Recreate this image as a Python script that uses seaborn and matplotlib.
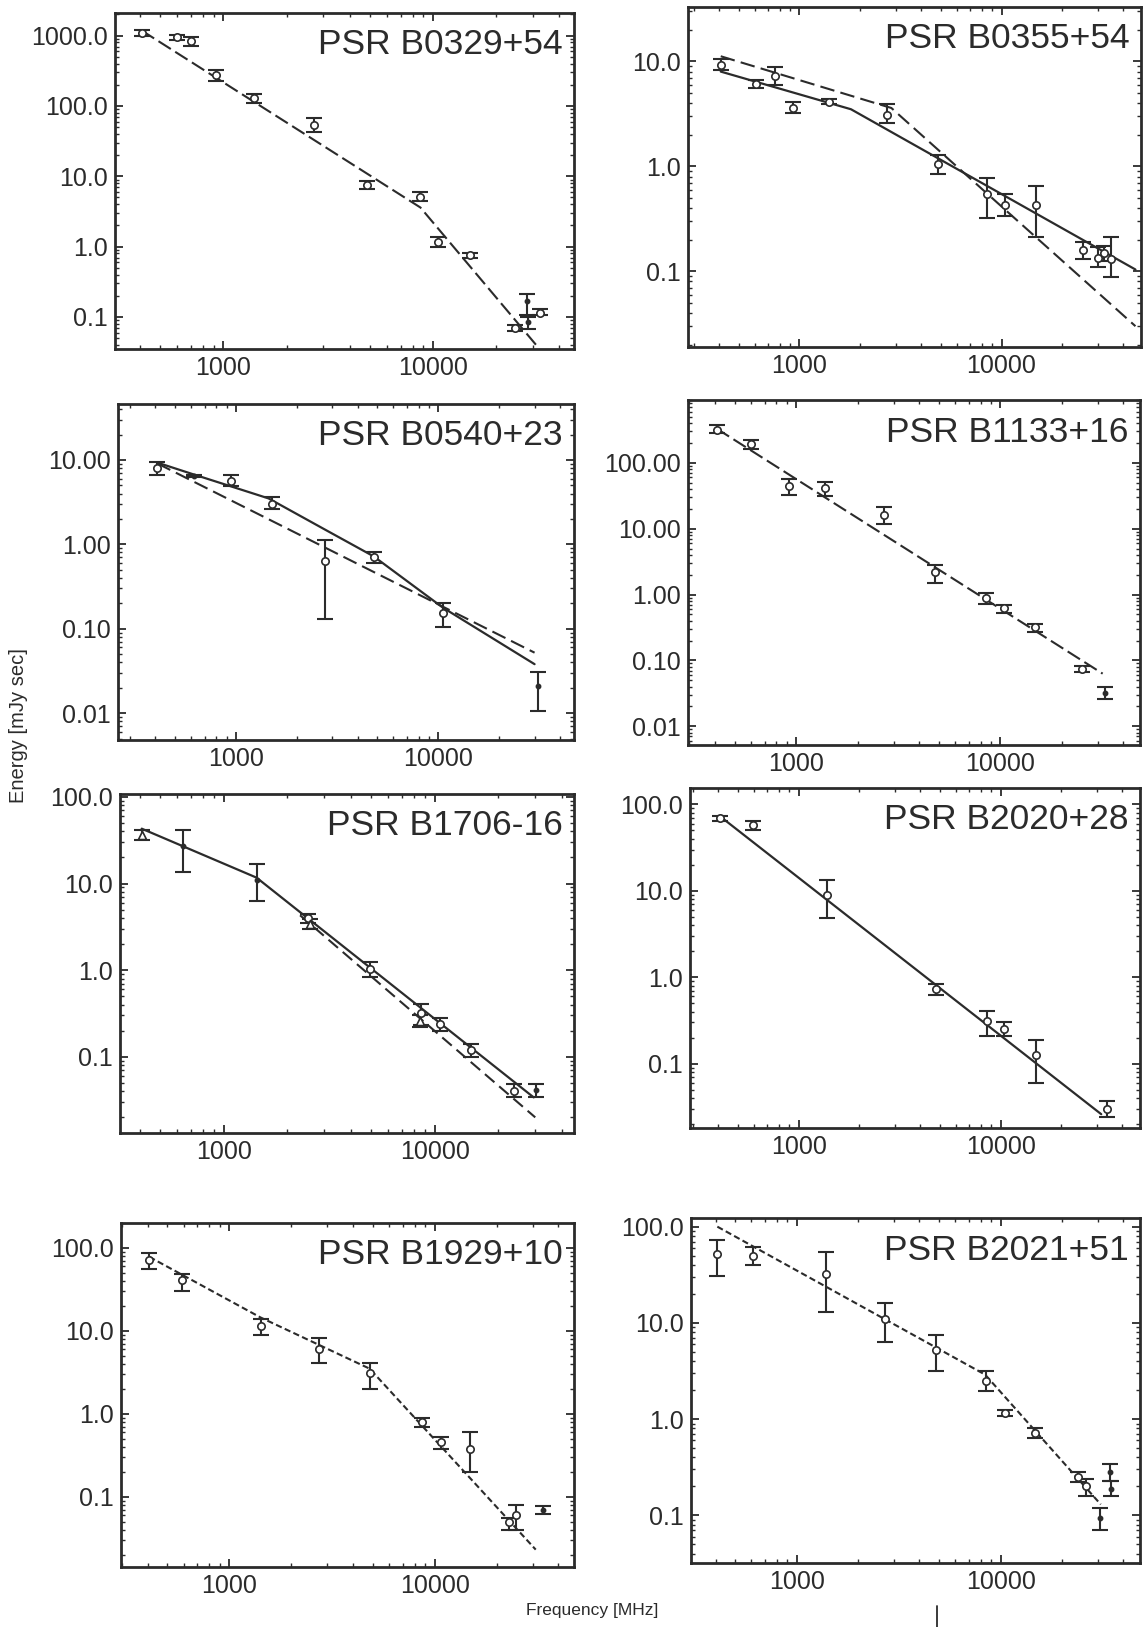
import numpy as np
import matplotlib
matplotlib.use("Agg")
import matplotlib.pyplot as plt
import matplotlib.ticker as mticker
from matplotlib.lines import Line2D
import seaborn as sns

# ---------------- data ----------------
names = ["PSR B0329+54", "PSR B0355+54", "PSR B0540+23", "PSR B1133+16",
         "PSR B1706-16", "PSR B2020+28", "PSR B1929+10", "PSR B2021+51"]

xtick_vals = [1000, 10000]
xtick_labels = ["1000", "10000"]

# PSR B0329+54
p1_freq = [408, 600, 700, 925, 1400, 2700, 4850, 8700, 10500, 15000, 24700, 28000, 28500, 32500]
p1_energy = [1100, 950, 830, 280, 130, 54, 7.5, 5.1, 1.15, 0.76, 0.07, 0.17, 0.085, 0.115]
p1_lo = [1000, 870, 720, 230, 112, 42, 6.5, 4.4, 1.0, 0.70, 0.063, 0.105, 0.068, 0.105]
p1_hi = [1200, 1030, 950, 330, 150, 67, 8.6, 5.9, 1.35, 0.82, 0.078, 0.21, 0.10, 0.128]
p1_kind = ["o"] * 11 + ["."] * 2 + ["o"]
p1_dash_f = [408, 8700, 31000]
p1_dash_e = [1180, 3.6, 0.04]
p1_yticks = [1000, 100, 10, 1, 0.1]
p1_ylabels = ["1000.0", "100.0", "10.0", "1.0", "0.1"]

# PSR B0355+54
p2_freq = [408, 610, 760, 925, 1400, 2700, 4850, 8500, 10400, 14800, 25300, 30000, 32000, 34700]
p2_energy = [9.2, 6.1, 7.2, 3.6, 4.1, 3.1, 1.05, 0.55, 0.43, 0.43, 0.16, 0.135, 0.15, 0.13]
p2_lo = [8.2, 5.6, 5.9, 3.2, 3.9, 2.6, 0.85, 0.32, 0.34, 0.21, 0.13, 0.11, 0.125, 0.088]
p2_hi = [10.5, 6.6, 8.8, 4.1, 4.4, 3.9, 1.28, 0.77, 0.55, 0.65, 0.19, 0.17, 0.175, 0.21]
p2_kind = ["o"] * 14
p2_dash_f = [408, 2850, 46000]
p2_dash_e = [11.2, 3.6, 0.03]
p2_solid_f = [408, 1800, 46000]
p2_solid_e = [8.0, 3.5, 0.104]
p2_yticks = [10, 1, 0.1]
p2_ylabels = ["10.0", "1.0", "0.1"]

# PSR B0540+23
p3_freq = [408, 620, 940, 1500, 2770, 4800, 10550, 31300]
p3_energy = [8.0, 6.5, 5.6, 3.0, 0.63, 0.70, 0.155, 0.021]
p3_lo = [6.6, 6.3, 4.9, 2.6, 0.13, 0.60, 0.105, 0.0105]
p3_hi = [9.5, 6.7, 6.6, 3.6, 1.12, 0.82, 0.20, 0.031]
p3_kind = ["o", ".", "o", "o", "o", "o", "o", "."]
p3_solid_f = [408, 610, 1450, 2750, 4800, 10550, 30000]
p3_solid_e = [9.3, 6.8, 3.5, 1.5, 0.72, 0.178, 0.038]
p3_dash_f = [408, 30000]
p3_dash_e = [9.1, 0.052]
p3_yticks = [10, 1, 0.1, 0.01]
p3_ylabels = ["10.00", "1.00", "0.10", "0.01"]

# PSR B1133+16
p4_freq = [408, 600, 917, 1386, 2700, 4770, 8530, 10400, 14800, 25200, 32500]
p4_energy = [320, 190, 45, 42, 16, 2.2, 0.90, 0.63, 0.32, 0.075, 0.032]
p4_lo = [280, 160, 32, 31, 11.6, 1.5, 0.72, 0.53, 0.27, 0.067, 0.026]
p4_hi = [370, 225, 57, 52, 21, 2.8, 1.05, 0.70, 0.36, 0.082, 0.039]
p4_kind = ["o"] * 10 + ["."]
p4_dash_f = [408, 31700]
p4_dash_e = [330, 0.063]
p4_yticks = [100, 10, 1, 0.1, 0.01]
p4_ylabels = ["100.00", "10.00", "1.00", "0.10", "0.01"]

# PSR B1706-16
p5_freq = [408, 640, 1430, 2500, 2570, 4910, 8630, 8500, 10600, 14900, 23800, 30400]
p5_energy = [36, 27, 11, 4.0, 3.4, 1.03, 0.32, 0.26, 0.24, 0.12, 0.040, 0.041]
p5_lo = [32, 13.5, 6.3, 3.5, 3.0, 0.83, 0.23, 0.22, 0.20, 0.10, 0.034, 0.034]
p5_hi = [41, 41, 17, 4.5, 3.9, 1.24, 0.41, 0.30, 0.28, 0.14, 0.049, 0.049]
p5_kind = ["^", ".", ".", "o", "^", "o", "o", "^", "o", "o", "o", "."]
p5_solid_f = [408, 1430, 29500]
p5_solid_e = [43, 11.7, 0.034]
p5_dash_f = [2300, 30000]
p5_dash_e = [4.3, 0.02]
p5_yticks = [100, 10, 1, 0.1]
p5_ylabels = ["100.0", "10.0", "1.0", "0.1"]

# PSR B2020+28
p6_freq = [408, 592, 1375, 4800, 8520, 10400, 15000, 33600]
p6_energy = [70, 58, 9.0, 0.74, 0.31, 0.25, 0.125, 0.030]
p6_lo = [65, 51, 4.9, 0.63, 0.21, 0.21, 0.06, 0.024]
p6_hi = [74, 64, 13.5, 0.84, 0.41, 0.30, 0.19, 0.037]
p6_kind = ["o"] * 8
p6_solid_f = [408, 31500]
p6_solid_e = [73, 0.026]
p6_yticks = [100, 10, 1, 0.1]
p6_ylabels = ["100.0", "10.0", "1.0", "0.1"]

# PSR B1929+10
p7_freq = [408, 586, 1420, 2720, 4820, 8630, 10700, 14900, 23000, 24800, 33700]
p7_energy = [72, 41, 11.5, 6.1, 3.1, 0.80, 0.46, 0.38, 0.050, 0.060, 0.070]
p7_lo = [55, 30, 8.9, 4.1, 2.0, 0.70, 0.38, 0.20, 0.040, 0.040, 0.062]
p7_hi = [87, 49, 14, 8.2, 4.1, 0.90, 0.53, 0.60, 0.055, 0.080, 0.078]
p7_kind = ["o"] * 10 + ["."]
p7_dash_f = [408, 1420, 4820, 31000]
p7_dash_e = [78, 14.5, 3.5, 0.023]
p7_yticks = [100, 10, 1, 0.1]
p7_ylabels = ["100.0", "10.0", "1.0", "0.1"]

# PSR B2021+51
p8_freq = [408, 611, 1387, 2700, 4830, 8520, 10480, 14800, 24000, 26200, 30700, 34500, 34800]
p8_energy = [52, 50, 32, 11, 5.2, 2.5, 1.15, 0.72, 0.25, 0.20, 0.093, 0.28, 0.19]
p8_lo = [31, 40, 13, 6.3, 3.2, 1.95, 1.08, 0.63, 0.22, 0.16, 0.070, 0.23, 0.16]
p8_hi = [72, 62, 54, 16, 7.4, 3.2, 1.25, 0.80, 0.28, 0.24, 0.12, 0.34, 0.23]
p8_kind = ["o"] * 10 + ["."] * 3
p8_dash_f = [408, 8400, 31000]
p8_dash_e = [100, 2.9, 0.13]
p8_yticks = [100, 10, 1, 0.1]
p8_ylabels = ["100.0", "10.0", "1.0", "0.1"]

# ---------------- layout / styling ----------------
W, H = 1144, 1627
sns.set_theme(style="ticks")
plt.rcParams["font.family"] = ["Liberation Sans", "DejaVu Sans"]
INK = "#2b2b2b"

fig = plt.figure(figsize=(W / 100, H / 100), dpi=100)
fig.patch.set_facecolor("white")

def add_axes_px(l, r, t, b):
    return fig.add_axes([l / W, 1 - b / H, (r - l) / W, (b - t) / H])

panels = [
    dict(box=(115, 574, 13, 349), xlim=(304, 47000), ylim=(0.035, 2100),
         f=p1_freq, e=p1_energy, lo=p1_lo, hi=p1_hi, kind=p1_kind,
         dash=(p1_dash_f, p1_dash_e), solid=None, dstyle=(0, (7, 2.5)),
         yt=p1_yticks, yl=p1_ylabels, name=names[0]),
    dict(box=(688, 1141, 7, 347), xlim=(281, 49000), ylim=(0.019, 33),
         f=p2_freq, e=p2_energy, lo=p2_lo, hi=p2_hi, kind=p2_kind,
         dash=(p2_dash_f, p2_dash_e), solid=(p2_solid_f, p2_solid_e), dstyle=(0, (7, 3)),
         yt=p2_yticks, yl=p2_ylabels, name=names[1]),
    dict(box=(118, 574, 404, 740), xlim=(261, 47000), ylim=(0.0048, 46),
         f=p3_freq, e=p3_energy, lo=p3_lo, hi=p3_hi, kind=p3_kind,
         dash=(p3_dash_f, p3_dash_e), solid=(p3_solid_f, p3_solid_e), dstyle=(0, (7, 3)),
         yt=p3_yticks, yl=p3_ylabels, name=names[2]),
    dict(box=(688, 1140, 400, 745), xlim=(295, 48300), ylim=(0.0052, 900),
         f=p4_freq, e=p4_energy, lo=p4_lo, hi=p4_hi, kind=p4_kind,
         dash=(p4_dash_f, p4_dash_e), solid=None, dstyle=(0, (7, 2.5)),
         yt=p4_yticks, yl=p4_ylabels, name=names[3]),
    dict(box=(120, 574, 794, 1133), xlim=(322, 45800), ylim=(0.0132, 108),
         f=p5_freq, e=p5_energy, lo=p5_lo, hi=p5_hi, kind=p5_kind,
         dash=(p5_dash_f, p5_dash_e), solid=(p5_solid_f, p5_solid_e), dstyle=(0, (6, 3)),
         yt=p5_yticks, yl=p5_ylabels, name=names[4]),
    dict(box=(690, 1140, 788, 1128), xlim=(290, 49000), ylim=(0.018, 155),
         f=p6_freq, e=p6_energy, lo=p6_lo, hi=p6_hi, kind=p6_kind,
         dash=None, solid=(p6_solid_f, p6_solid_e), dstyle=(0, (6, 3)),
         yt=p6_yticks, yl=p6_ylabels, name=names[5]),
    dict(box=(121, 574, 1223, 1567), xlim=(297, 47600), ylim=(0.0142, 200),
         f=p7_freq, e=p7_energy, lo=p7_lo, hi=p7_hi, kind=p7_kind,
         dash=(p7_dash_f, p7_dash_e), solid=None, dstyle=(0, (3, 1.6)),
         yt=p7_yticks, yl=p7_ylabels, name=names[6]),
    dict(box=(691, 1140, 1218, 1563), xlim=(303, 48300), ylim=(0.032, 123),
         f=p8_freq, e=p8_energy, lo=p8_lo, hi=p8_hi, kind=p8_kind,
         dash=(p8_dash_f, p8_dash_e), solid=None, dstyle=(0, (3, 1.6)),
         yt=p8_yticks, yl=p8_ylabels, name=names[7]),
]

for p in panels:
    ax = add_axes_px(*p["box"])
    ax.set_xscale("log")
    ax.set_yscale("log")
    ax.set_facecolor("white")

    if p["solid"] is not None:
        sns.lineplot(x=p["solid"][0], y=p["solid"][1], ax=ax, color=INK,
                     linewidth=1.6, estimator=None, sort=False, zorder=2)
    if p["dash"] is not None:
        sns.lineplot(x=p["dash"][0], y=p["dash"][1], ax=ax, color=INK,
                     linewidth=1.5, linestyle=p["dstyle"], estimator=None,
                     sort=False, zorder=2)

    f = np.array(p["f"], float)
    e = np.array(p["e"], float)
    lo = np.array(p["lo"], float)
    hi = np.array(p["hi"], float)
    ax.errorbar(f, e, yerr=[e - lo, hi - e], fmt="none", ecolor=INK,
                elinewidth=1.5, capsize=5.5, capthick=1.5, zorder=3)

    kinds = np.array(p["kind"])
    for k, mk, fc, sz in [("o", "o", "white", 28), ("^", "^", "white", 34), (".", "o", INK, 9)]:
        m = kinds == k
        if m.any():
            sns.scatterplot(x=f[m], y=e[m], ax=ax, marker=mk, s=sz,
                            facecolor=fc, edgecolor=INK, linewidth=1.2,
                            zorder=4, legend=False)

    ax.set_xlim(*p["xlim"])
    ax.set_ylim(*p["ylim"])

    ax.xaxis.set_major_locator(mticker.FixedLocator(xtick_vals))
    ax.xaxis.set_major_formatter(mticker.FixedFormatter(xtick_labels))
    ax.yaxis.set_major_locator(mticker.FixedLocator(p["yt"]))
    ax.yaxis.set_major_formatter(mticker.FixedFormatter(p["yl"]))
    ax.xaxis.set_minor_locator(mticker.LogLocator(base=10, subs=np.arange(2, 10), numticks=20))
    ax.yaxis.set_minor_locator(mticker.LogLocator(base=10, subs=np.arange(2, 10), numticks=20))
    ax.xaxis.set_minor_formatter(mticker.NullFormatter())
    ax.yaxis.set_minor_formatter(mticker.NullFormatter())

    ax.tick_params(which="both", direction="in", top=True, right=True,
                   color=INK, labelcolor=INK, labelsize=18)
    ax.tick_params(which="major", length=6, width=1.3, pad=5)
    ax.tick_params(which="minor", length=3, width=1.0)
    for s in ax.spines.values():
        s.set_color(INK)
        s.set_linewidth(2.0)
    ax.set_xlabel("")
    ax.set_ylabel("")

    ax.text(0.975, 0.955, p["name"], transform=ax.transAxes, ha="right",
            va="top", fontsize=25.5, color=INK)

fig.text(19 / W, 1 - 726 / H, "Energy [mJy sec]", rotation=90, ha="center",
         va="center", fontsize=14.5, color=INK)
fig.text(592 / W, 1 - 1611 / H, "Frequency [MHz]", ha="center", va="center",
         fontsize=12.5, color=INK)
fig.add_artist(Line2D([937 / W, 937 / W], [1 - 1606 / H, 0.0],
                      color=INK, linewidth=1.3, transform=fig.transFigure))

fig.savefig("out.png", dpi=100, facecolor="white")
